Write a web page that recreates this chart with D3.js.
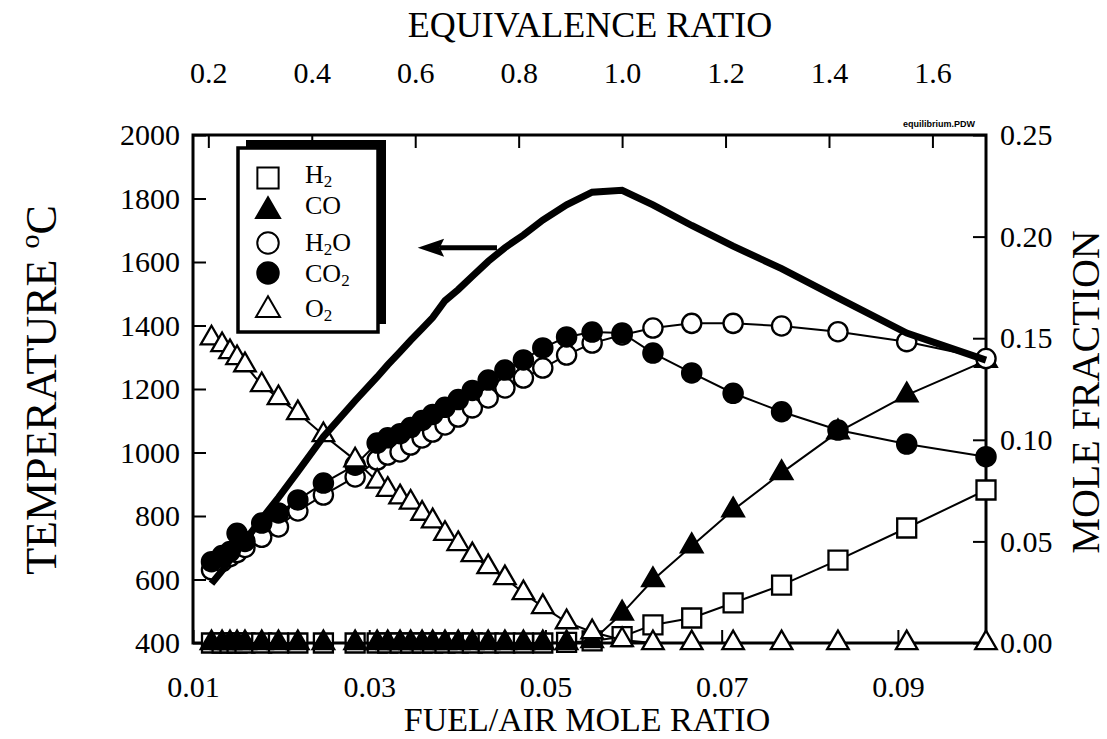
<!DOCTYPE html>
<html>
<head>
<meta charset="utf-8">
<script src="https://cdn.jsdelivr.net/npm/d3@7"></script>
<style>
body { margin: 0; background: #fff; }
svg { display: block; font-family: "Liberation Serif", "Times New Roman", serif; }
.axis line { stroke: #000; stroke-width: 2; }
.axis path { display: none; }
.axis text { font-family: "Liberation Serif", "Times New Roman", serif !important; }
</style>
</head>
<body>
<svg class="chart" width="1107" height="739"></svg>
<script>
// fuel/air mole ratio of each computed point
const fuelAir = [0.0121, 0.0133, 0.0142, 0.0150, 0.0159, 0.0178, 0.0197, 0.0219, 0.0248, 0.0284,
  0.0309, 0.0321, 0.0335, 0.0347, 0.0360, 0.0372, 0.0386, 0.0401, 0.0417, 0.0435, 0.0454,
  0.0475, 0.0497, 0.0524, 0.0553, 0.0587, 0.0622, 0.0666, 0.0713, 0.0768, 0.0832, 0.0910, 0.1000];

// adiabatic flame temperature, deg C
const temperature = [587, 628, 662, 689, 723, 791, 858, 940, 1050, 1163,
  1238, 1276, 1317, 1353, 1390, 1425, 1478, 1513, 1555, 1602, 1645,
  1685, 1732, 1780, 1820, 1826, 1780, 1715, 1650, 1579, 1487, 1376, 1291];

// mole fractions
const h2 = [0, 0, 0, 0, 0, 0, 0, 0, 0, 0,
  0, 0, 0, 0, 0, 0, 0, 0, 0, 0, 0,
  0, 0, 0.0003, 0.001, 0.0031, 0.0089, 0.0123, 0.0197, 0.0285, 0.0408, 0.0566, 0.0753];
const co = [0, 0, 0, 0, 0, 0, 0, 0, 0, 0,
  0, 0, 0, 0, 0, 0, 0, 0, 0, 0, 0,
  0, 0, 0, 0.001, 0.0146, 0.031, 0.0477, 0.0654, 0.0837, 0.1038, 0.122, 0.139];
const h2o = [0.036, 0.040, 0.0425, 0.0445, 0.047, 0.052, 0.0571, 0.0650, 0.0728, 0.0817,
  0.0900, 0.0925, 0.0940, 0.0974, 0.1009, 0.1038, 0.1073, 0.1112, 0.1157, 0.1206, 0.1255,
  0.1304, 0.1353, 0.1417, 0.1476, 0.1516, 0.1550, 0.1573, 0.1573, 0.1560, 0.1532, 0.1483, 0.1400];
const co2 = [0.040, 0.043, 0.045, 0.054, 0.050, 0.059, 0.064, 0.0704, 0.0787, 0.0875,
  0.0984, 0.1010, 0.1030, 0.1060, 0.1095, 0.1125, 0.1160, 0.1198, 0.1243, 0.1294, 0.1343,
  0.1393, 0.1452, 0.1506, 0.1530, 0.1526, 0.1427, 0.1329, 0.1229, 0.1138, 0.1048, 0.0979, 0.0917];
const o2 = [0.150, 0.1467, 0.1432, 0.1403, 0.1368, 0.127, 0.1206, 0.1132, 0.1024, 0.090,
  0.0795, 0.0755, 0.0718, 0.0692, 0.0637, 0.0600, 0.0538, 0.0488, 0.0433, 0.0374, 0.0320,
  0.0246, 0.0178, 0.0103, 0.0054, 0.0015, 0, 0, 0, 0, 0, 0, 0];

// tick labels
const fuelTicks = [0.01, 0.03, 0.05, 0.07, 0.09];
const phiTicks = [0.2, 0.4, 0.6, 0.8, 1.0, 1.2, 1.4, 1.6];
const tempTicks = [400, 600, 800, 1000, 1200, 1400, 1600, 1800, 2000];
const moleTicks = [0, 0.05, 0.10, 0.15, 0.20, 0.25];
const stoichFuelAir = 0.0587; // phi = 1

const plotL = 193, plotR = 986, plotT = 135, plotB = 643;
const serif = "'Liberation Serif', 'Times New Roman', serif";

const svg = d3.select(".chart");

const x = d3.scaleLinear().domain([0.01, 0.10]).range([plotL, plotR]);
const xPhi = d3.scaleLinear().domain([0.01 / stoichFuelAir, 0.10 / stoichFuelAir]).range([plotL, plotR]);
const yTemp = d3.scaleLinear().domain([400, 2000]).range([plotB, plotT]);
const yMole = d3.scaleLinear().domain([0, 0.25]).range([plotB, plotT]);

// axes (ticks point inward)
function styleAxis(g) {
  g.attr("font-family", serif).attr("font-size", 30);
  g.selectAll("text").attr("fill", "#000").style("font-family", serif);
}

svg.append("g").attr("class", "axis")
  .attr("transform", `translate(0,${plotB})`)
  .call(d3.axisBottom(x).tickValues(fuelTicks).tickFormat(d3.format(".2f")).tickSize(-13).tickPadding(33))
  .call(styleAxis);

svg.append("g").attr("class", "axis")
  .attr("transform", `translate(0,${plotT})`)
  .call(d3.axisTop(xPhi).tickValues(phiTicks).tickFormat(d3.format(".1f")).tickSize(-13).tickPadding(52))
  .call(styleAxis);

svg.append("g").attr("class", "axis")
  .attr("transform", `translate(${plotL},0)`)
  .call(d3.axisLeft(yTemp).tickValues(tempTicks).tickFormat(d3.format("d")).tickSize(-13).tickPadding(13))
  .call(styleAxis);

svg.append("g").attr("class", "axis")
  .attr("transform", `translate(${plotR},0)`)
  .call(d3.axisRight(yMole).tickValues(moleTicks).tickFormat(d3.format(".2f")).tickSize(-13).tickPadding(14))
  .call(styleAxis);

// frame
svg.append("rect")
  .attr("x", plotL).attr("y", plotT)
  .attr("width", plotR - plotL).attr("height", plotB - plotT)
  .attr("fill", "none").attr("stroke", "#000").attr("stroke-width", 3);

// titles
svg.append("text").attr("x", 590).attr("y", 37)
  .attr("text-anchor", "middle").attr("font-size", 36)
  .text("EQUIVALENCE RATIO");

svg.append("text").attr("x", 587).attr("y", 731)
  .attr("text-anchor", "middle").attr("font-size", 34)
  .text("FUEL/AIR MOLE RATIO");

const tTitle = svg.append("text")
  .attr("transform", "translate(56,390) rotate(-90)")
  .attr("text-anchor", "middle").attr("font-size", 44);
tTitle.append("tspan").text("TEMPERATURE ");
tTitle.append("tspan").attr("font-size", 28).attr("dy", -17).text("o");
tTitle.append("tspan").attr("dy", 17).text("C");

svg.append("text")
  .attr("transform", "translate(1099,392) rotate(-90)")
  .attr("text-anchor", "middle").attr("font-size", 40)
  .text("MOLE FRACTION");

svg.append("text").attr("x", 975).attr("y", 127)
  .attr("text-anchor", "end")
  .attr("font-family", "'Liberation Sans Narrow', 'Liberation Sans', sans-serif")
  .attr("font-weight", "bold").attr("font-size", 9)
  .text("equilibrium.PDW");

// species series
const series = [
  { name: "H2", values: h2, shape: d3.symbolSquare, size: 361, fill: "#fff" },
  { name: "CO", values: co, shape: d3.symbolTriangle, size: 200, fill: "#000" },
  { name: "H2O", values: h2o, shape: d3.symbolCircle, size: 290, fill: "#fff" },
  { name: "CO2", values: co2, shape: d3.symbolCircle, size: 290, fill: "#000" },
  { name: "O2", values: o2, shape: d3.symbolTriangle, size: 200, fill: "#fff" }
];

const moleLine = d3.line().x(d => x(d.f)).y(d => yMole(d.v));

series.forEach(s => {
  const pts = fuelAir.map((f, i) => ({ f: f, v: s.values[i] }));
  const g = svg.append("g");
  g.append("path").datum(pts)
    .attr("d", moleLine)
    .attr("fill", "none").attr("stroke", "#000").attr("stroke-width", 2);
  g.selectAll("path.mk").data(pts).enter().append("path")
    .attr("class", "mk")
    .attr("transform", d => `translate(${x(d.f)},${yMole(d.v)})`)
    .attr("d", d3.symbol().type(s.shape).size(s.size))
    .attr("fill", s.fill).attr("stroke", "#000").attr("stroke-width", 2.3);
});

// temperature curve
const tempLine = d3.line().x(d => x(d.f)).y(d => yTemp(d.t));
svg.append("path")
  .datum(fuelAir.map((f, i) => ({ f: f, t: temperature[i] })))
  .attr("d", tempLine)
  .attr("fill", "none").attr("stroke", "#000").attr("stroke-width", 7)
  .attr("stroke-linejoin", "miter");

// arrow pointing to temperature axis
const ay = yTemp(1645);
svg.append("line")
  .attr("x1", x(0.0445)).attr("y1", ay).attr("x2", x(0.0380)).attr("y2", ay)
  .attr("stroke", "#000").attr("stroke-width", 5);
svg.append("path")
  .attr("d", `M${x(0.0355)},${ay} L${x(0.0385)},${ay - 9} L${x(0.0380)},${ay} L${x(0.0385)},${ay + 9} Z`)
  .attr("fill", "#000");

// legend
const legend = svg.append("g");
legend.append("rect").attr("x", 246).attr("y", 140).attr("width", 140).attr("height", 184).attr("fill", "#000");
legend.append("rect").attr("x", 238).attr("y", 148).attr("width", 140).attr("height", 184)
  .attr("fill", "#fff").attr("stroke", "#000").attr("stroke-width", 3.5);

const legendRows = [
  { s: series[0], sy: 178, ty: 183, label: ["H", "2", ""] },
  { s: series[1], sy: 211, ty: 214, label: ["CO", "", ""] },
  { s: series[2], sy: 243, ty: 251, label: ["H", "2", "O"] },
  { s: series[3], sy: 273, ty: 282, label: ["CO", "2", ""] },
  { s: series[4], sy: 310, ty: 317, label: ["O", "2", ""] }
];
legendRows.forEach(r => {
  legend.append("path")
    .attr("transform", `translate(268,${r.sy})`)
    .attr("d", d3.symbol().type(r.s.shape).size(r.s.size * 1.25))
    .attr("fill", r.s.fill).attr("stroke", "#000").attr("stroke-width", 2);
  const t = legend.append("text").attr("x", 305).attr("y", r.ty).attr("font-size", 26);
  t.append("tspan").text(r.label[0]);
  if (r.label[1]) t.append("tspan").attr("font-size", 17).attr("dy", 4).text(r.label[1]);
  if (r.label[2]) t.append("tspan").attr("dy", -4).text(r.label[2]);
});
</script>
</body>
</html>
